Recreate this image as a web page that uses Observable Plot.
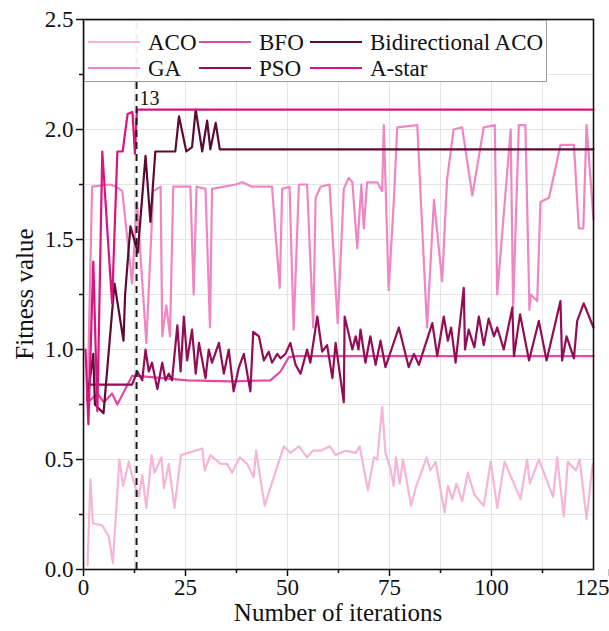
<!DOCTYPE html>
<html><head><meta charset="utf-8">
<script src="https://cdn.jsdelivr.net/npm/d3@7"></script>
<script src="https://cdn.jsdelivr.net/npm/@observablehq/plot@0.6"></script>
<style>
body{margin:0;background:#fff;font-family:"Liberation Serif","Times New Roman",serif;}
#wrap{position:relative;width:609px;height:631px;}
.lbl{position:absolute;font-size:25px;color:#111;white-space:nowrap;}
</style></head>
<body><div id="wrap"></div>
<script>
// ---- data ----
const seriesNames = ["ACO","BFO","Bidirectional ACO","GA","PSO","A-star"];
const seriesColors = ["#f5b5d8","#e14a9f","#5c0b34","#ef86c2","#920d55","#d8157f"];
const drawOrder = ["ACO","GA","BFO","PSO","Bidirectional ACO","A-star"];

const acoX = [1,1.7,2.3,4.6,6.2,7.2,8.8,9.7,11.1,12.3,13.6,14.4,15.4,16.7,17.4,19.1,19.7,20.9,22.3,23.9,29.1,29.7,31.1,33.6,35.2,36.4,38.3,40.1,41.7,42.3,44.4,49.1,50.7,52.8,54.8,56.2,58.1,60.4,61.8,64.2,66.7,67.7,69.7,71.2,72,73.2,74,75.2,76,76.6,77.5,78.3,80.3,81.4,84.1,85,86.3,88.5,89.3,90.4,91.4,92.8,94.2,95.8,98.1,99.8,101.4,103.2,107.1,108.7,109.4,111.6,115.1,116.1,117.7,118.7,120.7,121.6,123.3,124.8];
const acoY = [0.02,0.41,0.21,0.20,0.15,0.03,0.50,0.38,0.49,0.40,0.33,0.43,0.28,0.52,0.44,0.51,0.37,0.48,0.28,0.52,0.55,0.45,0.52,0.48,0.48,0.44,0.51,0.48,0.42,0.54,0.29,0.56,0.53,0.56,0.51,0.54,0.54,0.56,0.52,0.54,0.53,0.56,0.36,0.51,0.50,0.74,0.53,0.46,0.38,0.51,0.39,0.50,0.29,0.37,0.51,0.45,0.49,0.26,0.38,0.32,0.39,0.31,0.44,0.34,0.29,0.49,0.28,0.49,0.32,0.50,0.39,0.50,0.33,0.51,0.24,0.49,0.45,0.50,0.23,0.48];

const gaX = [1,2.1,6.5,8.0,9.5,11.9,13.1,15.4,17.1,18.9,19.3,20.3,21.2,22.0,26.2,27.0,27.7,29.9,31.0,31.5,37.3,38.9,41.3,46.2,48.1,48.7,50.5,51.5,52.8,54.8,56.3,56.9,58.1,60.3,62.3,63.8,65.0,65.9,67.1,68.1,68.7,69.5,72.0,73.2,73.6,74.8,76.1,76.9,81.8,84.2,85.9,87.9,89.1,90.7,92.8,95.3,98.1,100.8,101.4,104.7,105.3,106.7,108.3,109.3,109.6,111.2,112.0,114.1,116.9,120.2,121.4,122.5,123.3,125];
const gaY = [0.77,1.74,1.75,1.74,1.72,1.30,1.67,1.03,1.72,1.74,1.06,1.20,1.06,1.74,1.74,1.25,1.74,1.73,1.10,1.73,1.75,1.76,1.74,1.74,1.28,1.73,1.74,1.09,1.75,1.75,1.10,1.69,1.74,1.75,1.12,1.73,1.78,1.76,1.46,1.75,1.55,1.76,1.76,1.72,2.02,1.27,1.69,2.01,2.02,1.10,1.68,1.31,1.77,2.00,2.01,1.70,2.01,2.02,1.25,2.00,1.19,2.02,2.02,1.18,1.25,1.22,1.67,1.69,1.93,1.93,1.55,1.55,2.02,1.59];

const bfoX = [1.1,3.4,5.0,7.0,8.3,11.9,13.2,25.4,36,45.8,48.3,50.3,52.4,125];
const bfoY = [0.76,0.80,0.76,0.80,0.75,0.88,0.88,0.86,0.855,0.86,0.90,0.965,0.97,0.97];

const psoX = [0.9,11.9,13.2,14.4,15.2,16.0,16.8,18.1,19.3,20.1,20.9,21.7,23.0,23.8,24.6,25.4,26.6,27.5,28.3,29.9,30.7,31.5,33.2,34.4,35.6,36.8,38.1,39.3,40.9,41.6,43.0,44.2,45.4,46.2,47.5,48.3,49.5,50.7,52.0,53.2,54.8,55.6,57.3,58.5,59.7,61.0,61.8,62.6,63.8,64.0,65.9,66.7,67.4,67.9,69.1,70.3,71.6,72.8,74.0,77.3,79.7,81.0,82.2,85.5,86.7,88.3,89.3,90.1,91.2,93.2,93.5,94.4,95.8,96.9,98.1,99.3,100.6,101.4,103.0,105.1,105.5,107.0,109.2,111.6,113.5,116.9,117.3,118.4,120.2,121.0,122.6,125];
const psoY = [0.84,0.84,0.90,0.86,1.00,0.90,0.94,0.82,0.94,0.86,0.89,0.86,1.11,0.90,1.15,0.95,1.09,0.89,1.03,0.87,1.00,0.94,1.03,0.89,1.00,0.81,0.92,0.98,0.81,1.08,1.06,0.95,0.99,0.94,0.98,0.96,0.98,1.03,0.93,0.89,1.00,0.94,1.15,0.99,1.02,0.87,1.03,0.92,0.76,1.15,1.00,1.06,1.00,1.09,0.94,1.06,0.93,1.04,0.92,1.10,0.92,0.98,0.93,1.12,0.97,1.15,1.04,1.10,0.94,1.28,1.00,1.09,1.01,1.15,1.02,1.14,1.06,1.10,1.00,1.19,0.97,1.16,0.95,1.13,0.95,1.22,0.95,1.06,0.96,1.13,1.21,1.10];

const biX = [0.9,2.4,2.8,4.9,7.6,9.8,10.2,11.5,13.3,15.2,16.4,17.6,22.5,23.4,25.2,26.6,27.5,29.1,30.3,31.1,32.4,33.4,125];
const biY = [0.77,0.98,0.75,0.71,1.30,1.04,1.25,1.56,1.44,1.88,1.58,1.90,1.90,2.06,1.90,1.92,2.09,1.90,2.04,1.91,2.03,1.91,1.91];

const astarX = [0.5,1.2,2.4,3.4,4.6,7.0,8.3,9.6,10.8,12.0,12.6,13.1,125];
const astarY = [1.00,0.66,1.40,0.72,1.90,1.21,1.90,1.90,2.07,2.08,1.89,2.09,2.09];

const markX = 13, markLabel = "13", markLabelY = 2.14;
const xTicks = [0,25,50,75,100];
const xLastTick = [125];
const xMinor = [12.5,37.5,62.5,87.5,112.5];
const yTicks = [0,0.5,1.0,1.5,2.0,2.5];
const yMinor = [0.25,0.75,1.25,1.75,2.25];
const xGrid = [12.5,25,37.5,50,62.5,75,87.5,100,112.5];
const yGrid = [0.25,0.5,0.75,1.0,1.25,1.5,1.75,2.0,2.25];

// ---- build ----
const raw = {
  "ACO":[acoX,acoY], "GA":[gaX,gaY], "BFO":[bfoX,bfoY],
  "PSO":[psoX,psoY], "Bidirectional ACO":[biX,biY], "A-star":[astarX,astarY]
};
const colorOf = Object.fromEntries(seriesNames.map((n,i)=>[n,seriesColors[i]]));

const lineMarks = drawOrder.map(name => {
  const [xs, ys] = raw[name];
  const d = xs.map((x,i)=>({x, y: ys[i]}));
  return Plot.line(d, {x:"x", y:"y", stroke: colorOf[name], strokeWidth: 2.2, curve:"linear"});
});

const chart = Plot.plot({
  width: 609, height: 631,
  marginLeft: 83, marginRight: 16, marginTop: 19, marginBottom: 62,
  style: {fontFamily: '"Liberation Serif","Times New Roman",serif', fontSize: "23px", color:"#111", background:"#fff"},
  x: {domain:[0,125]},
  y: {domain:[0,2.5]},
  marks: [
    Plot.ruleX(xGrid, {stroke:"#e4e4e4", strokeWidth:1}),
    Plot.ruleY(yGrid, {stroke:"#e4e4e4", strokeWidth:1}),
    ...lineMarks,
    Plot.ruleX([markX], {y1:0, y2:2.5, stroke:"#1a1a1a", strokeWidth:2, strokeDasharray:"7,5"}),
    Plot.text([markLabel], {x: markX, y: markLabelY, text: d=>d, textAnchor:"start", dx: 3, fontSize: 20, fill:"#111"}),
    Plot.axisX({ticks: xTicks, tickSize: 7, tickPadding: 2, tickFormat: d=>String(d), fontSize: 23, label: null, strokeWidth: 1.5}),
    Plot.axisX({ticks: xLastTick, tickSize: 7, tickPadding: 2, tickFormat: d=>String(d), fontSize: 23, label: null, strokeWidth: 1.5, textAnchor: "end", dx: 16}),
    Plot.axisX({ticks: xMinor, tickSize: 4, tickFormat: ()=>"", label: null, strokeWidth: 1.5}),
    Plot.axisY({ticks: yTicks, tickSize: 7, tickPadding: 3, tickFormat: d3.format(".1f"), fontSize: 23, label: null, strokeWidth: 1.5}),
    Plot.axisY({ticks: yMinor, tickSize: 4, tickFormat: ()=>"", label: null, strokeWidth: 1.5}),
    Plot.frame({stroke:"#111", strokeWidth:1.6})
  ]
});
const wrap = document.getElementById("wrap");
wrap.appendChild(chart);

// axis titles
const yl = document.createElement("div");
yl.className = "lbl"; yl.textContent = "Fitness value";
yl.style.left = "25px"; yl.style.top = "294px";
yl.style.transform = "translate(-50%,-50%) rotate(-90deg)";
wrap.appendChild(yl);
const xl = document.createElement("div");
xl.className = "lbl"; xl.textContent = "Number of iterations";
xl.style.left = "338px"; xl.style.top = "613px";
xl.style.transform = "translate(-50%,-50%)";
wrap.appendChild(xl);

// legend (inside the plot, top-left)
const legW = 463, legH = 62;
const ns = "http://www.w3.org/2000/svg";
const leg = document.createElementNS(ns, "svg");
leg.setAttribute("width", legW); leg.setAttribute("height", legH);
leg.style.position = "absolute"; leg.style.left = "84px"; leg.style.top = "20px";
const bg = document.createElementNS(ns, "rect");
bg.setAttribute("x", 0.5); bg.setAttribute("y", 0.5);
bg.setAttribute("width", legW-1); bg.setAttribute("height", legH-1);
bg.setAttribute("fill", "#fff"); bg.setAttribute("fill-opacity", "0.92");
bg.setAttribute("stroke", "#9a9a9a"); bg.setAttribute("stroke-width", 1);
leg.appendChild(bg);
const colX = [4, 115, 226];
const rowY = [22, 48];
seriesNames.forEach((name, i) => {
  const c = i % 3, r = Math.floor(i / 3);
  const x0 = colX[c], y0 = rowY[r];
  const ln = document.createElementNS(ns, "line");
  ln.setAttribute("x1", x0); ln.setAttribute("x2", x0 + 52);
  ln.setAttribute("y1", y0); ln.setAttribute("y2", y0);
  ln.setAttribute("stroke", seriesColors[i]); ln.setAttribute("stroke-width", 2.2);
  leg.appendChild(ln);
  const t = document.createElementNS(ns, "text");
  t.setAttribute("x", x0 + 60); t.setAttribute("y", y0);
  t.setAttribute("dominant-baseline", "central");
  t.setAttribute("font-size", "23");
  t.setAttribute("font-family", '"Liberation Serif","Times New Roman",serif');
  t.setAttribute("fill", "#111");
  t.textContent = name;
  leg.appendChild(t);
});
wrap.appendChild(leg);
</script>
</body></html>
